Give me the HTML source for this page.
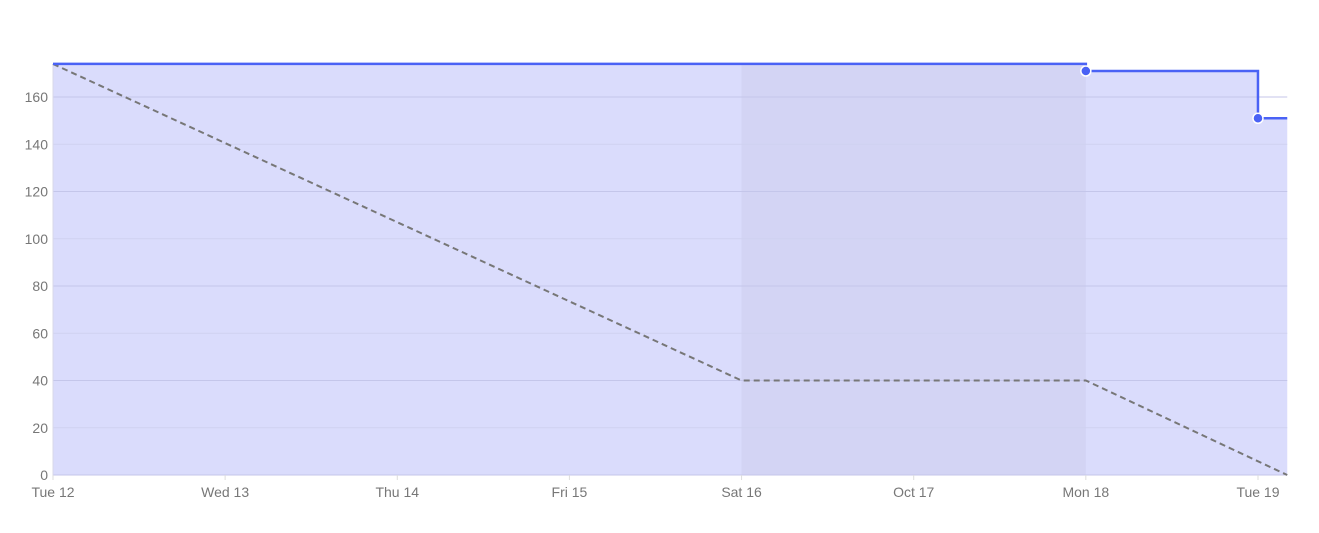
<!DOCTYPE html>
<html><head><meta charset="utf-8"><style>
html,body{margin:0;padding:0;background:#fff;}
svg text{font-family:"Liberation Sans",sans-serif;font-size:14px;fill:#777;}
</style></head><body>
<svg id="chart" width="1319" height="528" xmlns="http://www.w3.org/2000/svg"></svg>
<script>
const xLabels=["Tue 12","Wed 13","Thu 14","Fri 15","Sat 16","Oct 17","Mon 18","Tue 19"];
const yTicks=[0,20,40,60,80,100,120,140,160];
const actualDays=[0,6,7,7.17];
const actualVals=[174,171,151,151];
const pointDays=[6,7];
const pointVals=[171,151];
const idealDays=[0,4,6,7.17];
const idealVals=[174,40,40,0];
const weekend=[4,6];
const NS="http://www.w3.org/2000/svg";
const svg=document.getElementById('chart');
const X0=53,DAY=172.14,XEND=7.17;
const x=d=>X0+d*DAY;
const y=v=>475-v*378/160;
function el(t,a,p){const e=document.createElementNS(NS,t);for(const k in a)e.setAttribute(k,a[k]);(p||svg).appendChild(e);return e;}
let d=`M${x(0)},${y(0)}`;
for(let i=0;i<actualDays.length;i++){ if(i>0)d+=` L${x(actualDays[i])},${y(actualVals[i-1])}`; d+=` L${x(actualDays[i])},${y(actualVals[i])}`;}
d+=` L${x(XEND)},${y(0)} Z`;
const area=el('path',{d,fill:'#dadcfc'});


const wk=el('rect',{x:x(weekend[0]),y:y(actualVals[0]),width:x(weekend[1])-x(weekend[0]),height:y(0)-y(actualVals[0]),fill:'#c8c9e8',opacity:0.4});


yTicks.forEach((v,i)=>{
 const g=el('line',{x1:X0,x2:x(XEND),y1:y(v),y2:y(v),stroke:i%2==0?'#c4c6ea':'#cfd1f0','stroke-width':1});
 
 
 const t=el('text',{x:X0-5,y:y(v)+5,'text-anchor':'end'});t.textContent=v;
 
 
});
el('line',{x1:X0,x2:X0,y1:y(actualVals[0]),y2:y(0)+5,stroke:'#d8d8e8'});
xLabels.forEach((l,i)=>{
 el('line',{x1:x(i),x2:x(i),y1:y(0),y2:y(0)+5,stroke:'#ddd'});
 const t=el('text',{x:x(i),y:497,'text-anchor':'middle'});t.textContent=l;
 
 
});
let pd=idealDays.map((dd,i)=>(i?'L':'M')+x(dd)+','+y(idealVals[i])).join(' ');
const ideal=el('path',{d:pd,fill:'none',stroke:'#777','stroke-width':2,'stroke-dasharray':'6,4'});


let ad='';
for(let i=0;i<actualDays.length;i++){ if(i==0)ad=`M${x(actualDays[0])},${y(actualVals[0])}`; else {ad+=` L${x(actualDays[i])},${y(actualVals[i-1])} L${x(actualDays[i])},${y(actualVals[i])}`;}}
const act=el('path',{d:ad,fill:'none',stroke:'#4a62f5','stroke-width':2.5});


pointDays.forEach((dd,i)=>{
 const c=el('circle',{cx:x(dd),cy:y(pointVals[i]),r:5,fill:'#4a62f5',stroke:'#fff','stroke-width':1.5});
 
 
});
</script>
</body></html>
